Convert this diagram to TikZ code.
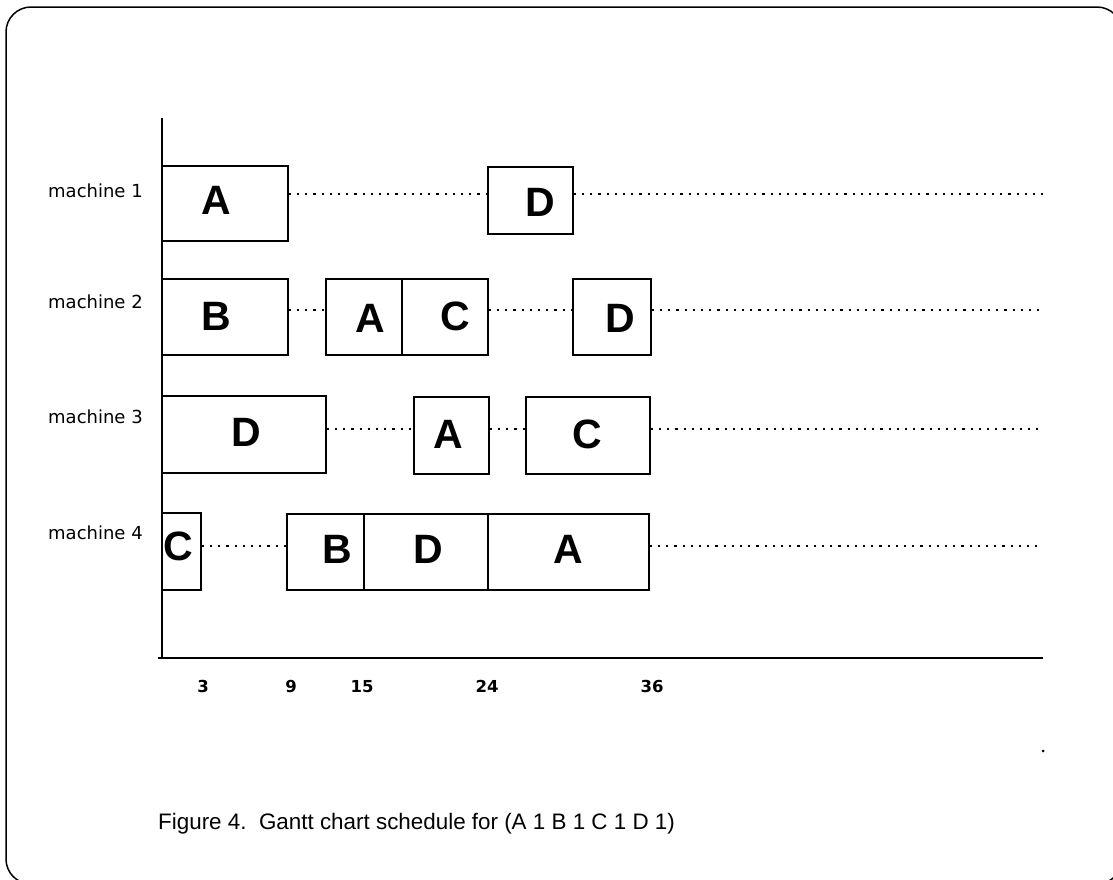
\documentclass[tikz,border=0pt]{standalone}
\usepackage{fontspec}
\setmainfont{Liberation Sans}
\newfontfamily\dvs{DejaVu Sans}
\usetikzlibrary{fit}
\begin{document}
\begin{tikzpicture}[x=1pt,y=-1pt,
  gbox/.style={draw, line width=1.4pt, inner sep=0pt},
  letter/.style={font=\fontsize{41}{44}\selectfont\bfseries, inner sep=0pt},
  mlabel/.style={font=\dvs\fontsize{18}{20}\selectfont, anchor=base west, inner sep=0pt},
  ticklab/.style={font=\dvs\fontsize{16.5}{18}\selectfont\bfseries, inner sep=0pt, anchor=base},
  dotline/.style={line width=2.2pt, dash pattern=on 2.2pt off 6pt},
  axisline/.style={line width=1.6pt},
  framestyle/.style={line width=1.5pt, rounded corners=25pt}]
\useasboundingbox (0,0) rectangle (1113,879);
\clip (0,0) rectangle (1113,879);
\draw[framestyle] (6,7) rectangle (1122,884);

% axes
\coordinate (ytop) at (162,118);
\coordinate (yorig) at (162,658);
\coordinate (xstart) at (158,658);
\coordinate (xend) at (1043,658);
\draw[axisline] (ytop) -- (yorig);
\draw[axisline] (xstart) -- (xend);

% row coordinates for dotted lines
\coordinate (r1) at (0,194);
\coordinate (r2) at (0,310);
\coordinate (r3) at (0,429);
\coordinate (r4) at (0,546);
\coordinate (e1) at (1043,194);
\coordinate (e2) at (1043,310);
\coordinate (e3) at (1043,429);
\coordinate (e4) at (1043,546);

% machine 1
\node[gbox, fit={(162,166) (288,241)}] (m1A) {};
\node[gbox, fit={(488,167) (573,234)}] (m1D) {};
\node[letter] (m1Al) at (216,200) {A};
\node[letter] (m1Dl) at (540,202) {D};

% machine 2
\node[gbox, fit={(162,279) (288,355)}] (m2B) {};
\node[gbox, fit={(326,279) (402,355)}] (m2A) {};
\node[gbox, fit={(402,279) (488,355)}] (m2C) {};
\node[gbox, fit={(573,279) (651,355)}] (m2D) {};
\node[letter] (m2Bl) at (216,316) {B};
\node[letter] (m2Al) at (370,318) {A};
\node[letter] (m2Cl) at (455,316) {C};
\node[letter] (m2Dl) at (620,318) {D};

% machine 3
\node[gbox, fit={(162,396) (326,473)}] (m3D) {};
\node[gbox, fit={(414,397) (489,474)}] (m3A) {};
\node[gbox, fit={(526,397) (650,474)}] (m3C) {};
\node[letter] (m3Dl) at (246,432) {D};
\node[letter] (m3Al) at (448,434) {A};
\node[letter] (m3Cl) at (587,434) {C};

% machine 4
\node[gbox, fit={(162,513) (201,590)}] (m4C) {};
\node[gbox, fit={(287,514) (364,590)}] (m4B) {};
\node[gbox, fit={(364,514) (488,590)}] (m4D) {};
\node[gbox, fit={(488,514) (649,590)}] (m4A) {};
\node[letter] (m4Cl) at (178,546) {C};
\node[letter] (m4Bl) at (337,549) {B};
\node[letter] (m4Dl) at (428,549) {D};
\node[letter] (m4Al) at (568,549) {A};

% dotted idle lines
\draw[dotline] (m1A.east |- r1) -- (m1D.west |- r1);
\draw[dotline] (m1D.east |- r1) -- (e1);
\draw[dotline] (m2B.east |- r2) -- (m2A.west |- r2);
\draw[dotline] (m2C.east |- r2) -- (m2D.west |- r2);
\draw[dotline] (m2D.east |- r2) -- (e2);
\draw[dotline] (m3D.east |- r3) -- (m3A.west |- r3);
\draw[dotline] (m3A.east |- r3) -- (m3C.west |- r3);
\draw[dotline] (m3C.east |- r3) -- (e3);
\draw[dotline] (m4C.east |- r4) -- (m4B.west |- r4);
\draw[dotline] (m4A.east |- r4) -- (e4);

% machine labels
\node[mlabel] (lab1) at (48,197) {machine 1};
\node[mlabel] (lab2) at (48,308) {machine 2};
\node[mlabel] (lab3) at (48,423) {machine 3};
\node[mlabel] (lab4) at (48,539) {machine 4};

% tick labels
\node[ticklab] (t3) at (203,692) {3};
\node[ticklab] (t9) at (291,692) {9};
\node[ticklab] (t15) at (362,692) {15};
\node[ticklab] (t24) at (487,692) {24};
\node[ticklab] (t36) at (652,692) {36};

% caption
\node[anchor=base west, inner sep=0pt, font=\fontsize{22.4}{26}\selectfont] (cap) at (158,829)
  {Figure 4.\ \ Gantt chart schedule for (A 1 B 1 C 1 D 1)};

% stray speck
\node[circle, fill, inner sep=0pt, minimum size=3pt] (speck) at (1043,751) {};
\end{tikzpicture}
\end{document}
